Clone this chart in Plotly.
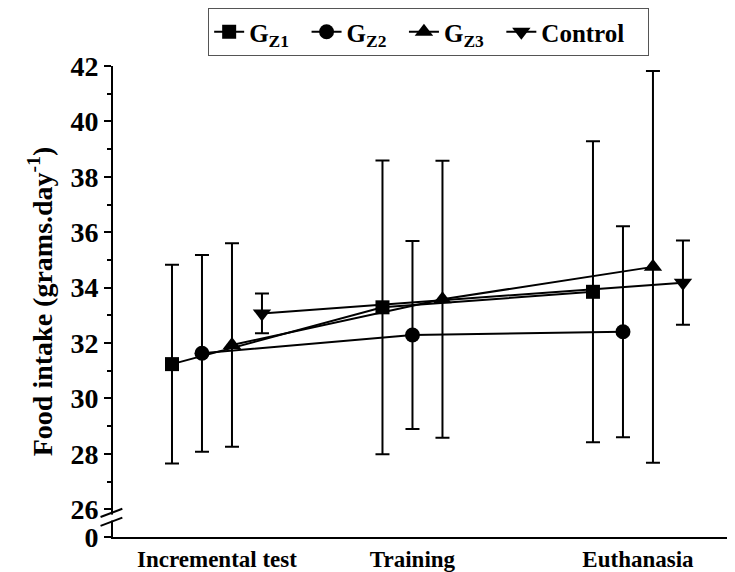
import plotly.graph_objects as go

categories = ["Incremental test", "Training", "Euthanasia"]
series_names = ["G<sub>Z1</sub>", "G<sub>Z2</sub>", "G<sub>Z3</sub>", "Control"]

gz1_mean = [31.24, 33.29, 33.85]
gz1_sd = [3.59, 5.30, 5.43]
gz2_mean = [31.63, 32.29, 32.41]
gz2_sd = [3.55, 3.39, 3.81]
gz3_mean = [31.93, 33.58, 34.75]
gz3_sd = [3.67, 5.00, 7.07]
ctrl_mean = [33.07, None, 34.18]
ctrl_sd = [0.72, None, 1.52]

y_ticks = [25, 26, 28, 30, 32, 34, 36, 38, 40, 42]
y_ticktext = ["0", "26", "28", "30", "32", "34", "36", "38", "40", "42"]
y_minor = [27, 29, 31, 33, 35, 37, 39, 41]

means = [gz1_mean, gz2_mean, gz3_mean, ctrl_mean]
sds = [gz1_sd, gz2_sd, gz3_sd, ctrl_sd]
symbols = ["square", "circle", "triangle-up", "triangle-down"]
sizes = [14, 15, 16, 16]
name_pad = ["\u00a0\u00a0", "\u00a0\u00a0", "\u00a0\u00a0", "\u00a0\u00a0\u00a0"]

step = 0.1425
offsets = [(-1.5 + i) * step for i in range(4)]
base = [1, 2, 3]

FONT = "Liberation Serif"
fig = go.Figure()
xs_all = []
for i in range(4):
    xs = [b + offsets[i] for b in base]
    xs_all.append(xs)
    fig.add_trace(go.Scatter(
        x=xs, y=means[i], name=series_names[i] + name_pad[i], mode="lines+markers",
        connectgaps=True,
        line=dict(color="black", width=2),
        marker=dict(symbol=symbols[i], size=sizes[i], color="black"),
        error_y=dict(type="data", array=sds[i], visible=True, color="black",
                     thickness=2, width=7),
    ))

# category tick positions: centre of the series present at each category
tickvals = []
for j in range(3):
    pts = [xs_all[i][j] for i in range(4) if means[i][j] is not None]
    tickvals.append(sum(pts) / len(pts))

fig.update_layout(
    width=727, height=564,
    margin=dict(l=105, r=0, t=58, b=35, autoexpand=False),
    paper_bgcolor="white", plot_bgcolor="white",
    font=dict(family=FONT, color="black"),
    showlegend=True,
    legend=dict(orientation="h", x=0.153, y=1.123, xanchor="left", yanchor="top",
                bordercolor="#555", borderwidth=1,
                font=dict(size=25, family=FONT, weight="bold"),
                tracegroupgap=0),
    xaxis=dict(range=[0.506, 3.461], tickmode="array", tickvals=tickvals,
               ticktext=categories, showline=True, linecolor="black", linewidth=2,
               ticks="", showgrid=False, zeroline=False, automargin=False,
               tickfont=dict(size=23, family=FONT, weight="bold")),
    yaxis=dict(range=[25, 42], tickmode="array", tickvals=y_ticks, ticktext=y_ticktext,
               showline=True, linecolor="black", linewidth=2, ticks="outside",
               ticklen=7, tickwidth=2, tickcolor="black", showgrid=False, zeroline=False,
               automargin=False,
               tickfont=dict(size=28, family=FONT, weight="bold"),
               minor=dict(tickmode="array", tickvals=y_minor, ticks="outside",
                          ticklen=4, tickwidth=2, tickcolor="black"),
               title=dict(text="Food intake (grams.day<sup>-1</sup>)",
                          font=dict(size=28, family=FONT, weight="bold"), standoff=10)),
)

# axis break marks
fig.add_shape(type="line", xref="paper", yref="y", x0=-0.004, x1=0.004, y0=25.7, y1=25.7,
              line=dict(color="white", width=6))
fig.add_shape(type="line", xref="paper", yref="y", x0=-0.02, x1=0.015, y0=25.72, y1=26.02,
              line=dict(color="black", width=2))
fig.add_shape(type="line", xref="paper", yref="y", x0=-0.02, x1=0.015, y0=25.40, y1=25.70,
              line=dict(color="black", width=2))

fig.write_html("out.html")
